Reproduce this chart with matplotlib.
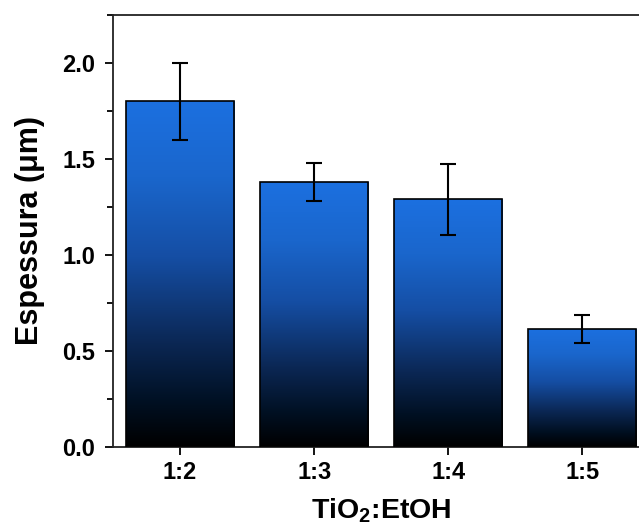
import numpy as np
import matplotlib
matplotlib.use("Agg")
import matplotlib.pyplot as plt
from matplotlib.colors import LinearSegmentedColormap
from matplotlib.ticker import MultipleLocator

plt.rcParams['font.family'] = ['Liberation Sans', 'DejaVu Sans']
plt.rcParams['mathtext.fontset'] = 'custom'
plt.rcParams['mathtext.rm'] = 'Liberation Sans:bold'
plt.rcParams['mathtext.bf'] = 'Liberation Sans:bold'

categories = ["1:2", "1:3", "1:4", "1:5"]
values = [1.80, 1.38, 1.29, 0.615]
errors = [0.20, 0.10, 0.185, 0.072]

fig = plt.figure(figsize=(6.39, 5.30), dpi=100)
ax = fig.add_axes([0.177, 0.157, 0.839, 0.815])

x = np.arange(1, len(categories) + 1)
width = 0.81
bars = ax.bar(x, values, width=width, facecolor='none', edgecolor='black',
              linewidth=1.2, zorder=3)

cmap = LinearSegmentedColormap.from_list(
    "bluegrad",
    [(0.0, "#000000"), (0.12, "#000f20"), (0.3, "#0b2754"),
     (0.55, "#154ea4"), (0.78, "#1a66cc"), (1.0, "#1c70e0")])
grad = np.linspace(0, 1, 256).reshape(-1, 1)
for b in bars:
    x0, y0 = b.get_x(), b.get_y()
    w, h = b.get_width(), b.get_height()
    im = ax.imshow(grad, cmap=cmap, origin='lower', aspect='auto',
                   extent=(x0, x0 + w, y0, y0 + h), zorder=2,
                   interpolation='bilinear')
    im.set_clip_path(b)

ax.errorbar(x, values, yerr=errors, fmt='none', ecolor='black',
            elinewidth=1.5, capsize=6, capthick=1.5, zorder=4)

ax.set_xlim(0.5, 4.5)
ax.set_ylim(0, 2.25)
ax.set_xticks(x)
ax.set_xticklabels(categories)
ax.yaxis.set_major_locator(MultipleLocator(0.5))
ax.yaxis.set_minor_locator(MultipleLocator(0.25))
ax.yaxis.set_major_formatter(matplotlib.ticker.FormatStrFormatter('%.1f'))

for s in ax.spines.values():
    s.set_linewidth(1.3)
    s.set_color('#222222')
ax.spines['right'].set_visible(False)

ax.tick_params(axis='both', which='major', direction='out', length=6,
               width=1.3, labelsize=17)
ax.tick_params(axis='x', which='major', pad=4)
ax.tick_params(axis='y', which='major', pad=7)
ax.tick_params(axis='y', which='minor', direction='out', length=4, width=1.3)
ax.tick_params(axis='x', which='minor', bottom=False)
for lab in ax.get_xticklabels() + ax.get_yticklabels():
    lab.set_fontweight('bold')

ax.set_ylabel("Espessura (μm)", fontsize=22, fontweight='bold', labelpad=12)
ax.set_xlabel("TiO$_2$:EtOH", fontsize=20.5, fontweight='bold', labelpad=9)

fig.savefig("out.png", dpi=100)
